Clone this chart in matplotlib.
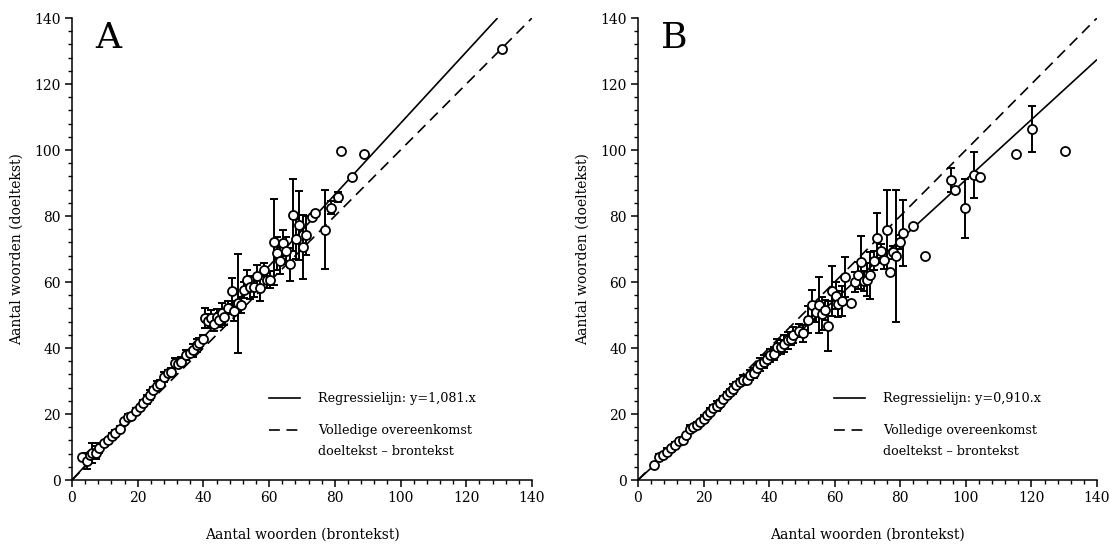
import matplotlib
matplotlib.use("Agg")
import matplotlib.pyplot as plt
from matplotlib.lines import Line2D
from matplotlib.ticker import MultipleLocator

plt.rcParams['font.family'] = ['DejaVu Serif']

# ---------------- Data: panel A ----------------
a_x = [3.0, 4.5, 5.5, 6.0, 7.3, 8.3, 9.6, 10.9, 12.1, 13.1, 14.6, 15.9, 17.1, 17.9, 19.4,
       20.7, 21.7, 22.7, 23.7, 24.7, 26.0, 26.7, 28.0, 29.2, 30.2, 31.3, 32.3, 33.3, 34.8,
       35.8, 36.8, 38.1, 38.8, 39.8, 40.5, 41.5, 42.2, 43.2, 44.0, 44.8, 45.6, 46.3, 47.6,
       48.6, 49.3, 50.5, 51.3, 52.3, 53.3, 54.3, 55.3, 56.3, 57.3, 58.3, 59.3, 60.3, 61.4,
       62.4, 63.4, 64.2, 65.2, 66.2, 67.2, 68.1, 69.2, 70.2, 71.1, 73.1, 74.1, 76.9, 78.9,
       80.9, 82.0, 85.1, 88.9, 131.0]
a_y = [6.9, 5.8, 7.5, 8.1, 8.3, 9.6, 11.1, 12.1, 13.3, 14.1, 15.5, 17.9, 19.0, 19.4, 20.9,
       22.0, 23.2, 24.4, 25.7, 27.2, 28.4, 29.2, 31.3, 32.3, 32.8, 35.5, 35.3, 35.8, 37.8,
       38.5, 39.3, 40.8, 41.5, 42.8, 49.1, 48.2, 49.0, 47.2, 49.3, 48.5, 50.6, 49.4, 52.2,
       57.3, 51.2, 53.5, 53.1, 57.6, 60.7, 58.4, 58.6, 61.8, 58.2, 63.7, 60.7, 60.7, 72.1,
       68.7, 66.5, 71.8, 69.5, 65.4, 80.3, 73.0, 77.2, 70.7, 74.1, 79.8, 80.8, 75.8, 82.5,
       85.8, 99.8, 91.7, 98.8, 130.7]
a_err = [0, 2.5, 0, 3.0, 2.0, 1.5, 0, 0, 1.0, 1.0, 1.0, 0, 1.0, 0, 1.0,
         0, 1.0, 1.5, 1.5, 1.0, 1.5, 1.0, 1.5, 1.0, 1.0, 1.5, 1.0, 1.5, 1.5,
         1.0, 2.0, 2.0, 1.5, 1.0, 3.0, 2.0, 2.5, 2.0, 2.5, 2.0, 3.0, 2.5, 2.0,
         4.0, 3.0, 15.0, 2.5, 2.5, 3.0, 3.5, 3.0, 3.5, 4.0, 2.0, 2.5, 2.5, 13.0,
         5.0, 4.0, 4.0, 4.0, 5.0, 11.0, 6.0, 10.5, 9.7, 6.0, 0, 0, 12.0, 2.0,
         1.5, 0, 0, 0, 0]
a_slope = 1.081
a_label = "Regressielijn: y=1,081.x"

# ---------------- Data: panel B ----------------
b_x = [4.8, 6.3, 7.6, 8.9, 10.1, 11.3, 12.6, 13.6, 14.6, 15.9, 16.9, 17.9, 19.0, 20.0,
       21.0, 22.0, 23.0, 24.0, 25.0, 26.0, 27.0, 28.0, 29.0, 30.0, 31.0, 32.1, 33.3, 34.3,
       35.3, 36.3, 37.3, 38.3, 39.3, 40.3, 41.5, 42.4, 43.5, 44.6, 45.6, 46.6, 47.4, 49.0,
       50.2, 51.9, 53.2, 54.2, 55.2, 56.2, 57.0, 58.0, 59.3, 60.3, 61.1, 62.1, 63.1, 65.1,
       66.1, 67.1, 68.1, 68.9, 69.9, 70.9, 71.9, 72.9, 74.0, 75.0, 75.8, 77.0, 77.8, 78.8,
       80.0, 80.8, 83.8, 87.5, 95.6, 96.6, 99.6, 102.6, 104.4, 115.3, 120.2, 130.1]
b_y = [4.5, 6.9, 7.6, 8.6, 9.6, 10.6, 11.9, 12.1, 13.6, 15.6, 16.1, 16.6, 17.6, 18.6,
       19.7, 20.7, 21.7, 22.4, 23.2, 24.4, 25.7, 26.7, 27.7, 28.7, 29.7, 30.2, 30.4, 31.8,
       32.5, 33.8, 35.1, 35.8, 36.8, 37.8, 38.3, 40.3, 40.3, 41.3, 42.3, 42.8, 43.9, 45.3,
       44.4, 48.6, 53.0, 51.0, 53.0, 50.4, 51.4, 46.6, 57.3, 55.9, 53.4, 54.2, 61.5, 53.6,
       59.9, 62.0, 66.0, 60.3, 60.7, 62.0, 66.5, 73.4, 69.4, 66.8, 75.9, 63.0, 69.0, 67.8,
       72.1, 74.9, 76.9, 67.8, 90.9, 87.9, 82.3, 92.4, 91.7, 98.8, 106.3, 99.8]
b_err = [0, 1.0, 0, 1.0, 0, 1.0, 0, 1.0, 0, 1.0, 0, 1.0, 0, 1.0,
         0, 1.0, 1.0, 1.5, 1.0, 1.0, 1.0, 1.0, 1.5, 1.0, 1.0, 1.5, 1.0, 1.5,
         1.5, 1.5, 2.0, 2.0, 1.5, 2.0, 2.0, 2.5, 2.0, 2.5, 2.5, 2.0, 2.5, 2.0,
         2.5, 4.0, 4.5, 3.0, 8.5, 5.0, 3.0, 7.5, 7.5, 4.0, 4.0, 4.5, 6.0, 0,
         3.0, 4.0, 8.0, 3.0, 5.0, 7.0, 3.0, 7.5, 2.0, 3.0, 12.0, 0, 2.0, 20.0,
         2.0, 10.0, 0, 0, 3.5, 0, 9.0, 7.0, 0, 0, 7.0, 0]
b_slope = 0.910
b_label = "Regressielijn: y=0,910.x"

ident_lines = ["Volledige overeenkomst", "doeltekst – brontekst"]
x_label = "Aantal woorden (brontekst)"
y_label = "Aantal woorden (doeltekst)"
panel_names = ["A", "B"]
axis_max = 140
major_ticks = [0, 20, 40, 60, 80, 100, 120, 140]

W, H = 1110, 544
fig = plt.figure(figsize=(W / 100, H / 100), dpi=100)
ax_a = fig.add_axes([72 / W, 64 / H, 460 / W, 462 / H])
ax_b = fig.add_axes([638 / W, 64 / H, 459 / W, 462 / H])

def draw(ax, xs, ys, errs, slope, reg_label, name):
    xmax = min(axis_max, axis_max / slope)
    ax.plot([0, xmax], [0, slope * xmax], color='black', lw=1.2, zorder=2,
            solid_capstyle='butt')
    ax.plot([0, axis_max], [0, axis_max], color='black', lw=1.2, zorder=2,
            dashes=(6.5, 4))
    ex = [x for x, e in zip(xs, errs) if e > 0]
    ey = [y for y, e in zip(ys, errs) if e > 0]
    ee = [e for e in errs if e > 0]
    ax.errorbar(ex, ey, yerr=ee, fmt='none', ecolor='black', elinewidth=1.4,
                capsize=2.8, capthick=1.4, zorder=3)
    ax.plot(xs, ys, 'o', ms=6.5, mfc='white', mec='black', mew=1.3, zorder=4,
            clip_on=False)

    ax.set_xlim(0, axis_max)
    ax.set_ylim(0, axis_max)
    ax.set_xticks(major_ticks)
    ax.set_yticks(major_ticks)
    ax.xaxis.set_minor_locator(MultipleLocator(4))
    ax.yaxis.set_minor_locator(MultipleLocator(4))
    for s in ['top', 'right']:
        ax.spines[s].set_visible(False)
    for s in ['left', 'bottom']:
        ax.spines[s].set_linewidth(1.1)
    ax.tick_params(which='major', direction='out', length=5, width=1.1,
                   labelsize=10, pad=3)
    ax.tick_params(which='minor', direction='out', length=3, width=1.0)
    ax.set_xlabel(x_label, fontsize=10, labelpad=16)
    ax.set_ylabel(y_label, fontsize=10, labelpad=8)

    ax.text(0.05, 0.935, name, transform=ax.transAxes, fontsize=26,
            va='baseline', ha='left')

    # legend keys
    x0, x1, xt = 0.428, 0.495, 0.534
    ax.add_line(Line2D([x0, x1], [0.177, 0.177], transform=ax.transAxes,
                       color='black', lw=1.2))
    ax.text(xt, 0.177, reg_label, transform=ax.transAxes, fontsize=9.2,
            va='center', ha='left')
    ax.add_line(Line2D([x0, x1], [0.108, 0.108], transform=ax.transAxes,
                       color='black', lw=1.2, dashes=(6.5, 4)))
    ax.text(xt, 0.108, ident_lines[0], transform=ax.transAxes,
            fontsize=9.2, va='center', ha='left')
    ax.text(xt, 0.062, ident_lines[1], transform=ax.transAxes,
            fontsize=9.2, va='center', ha='left')

draw(ax_a, a_x, a_y, a_err, a_slope, a_label, panel_names[0])
draw(ax_b, b_x, b_y, b_err, b_slope, b_label, panel_names[1])

fig.savefig("out.png", dpi=100)
